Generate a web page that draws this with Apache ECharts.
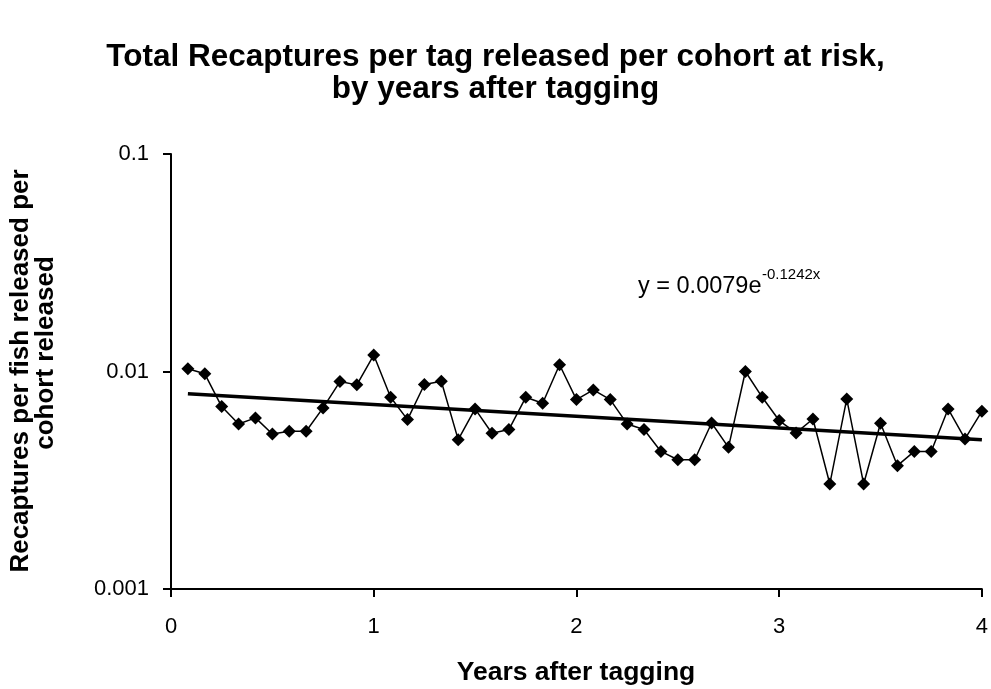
<!DOCTYPE html>
<html>
<head>
<meta charset="utf-8">
<script src="https://cdn.jsdelivr.net/npm/echarts@6/dist/echarts.min.js"></script>
<style>
html,body{margin:0;padding:0;background:#fff;}
#chart{width:991px;height:689px;}
</style>
</head>
<body>
<div id="chart"></div>
<script>
// Data
var months = [1,2,3,4,5,6,7,8,9,10,11,12,13,14,15,16,17,18,19,20,21,22,23,24,
              25,26,27,28,29,30,31,32,33,34,35,36,37,38,39,40,41,42,43,44,45,46,47,48];
var recaptures = [0.0103, 0.00976, 0.0069, 0.00574, 0.00612, 0.00516, 0.00531, 0.00531,
                  0.0068, 0.00899, 0.00868, 0.0119, 0.00761, 0.00601, 0.00871, 0.00902,
                  0.00486, 0.00673, 0.0052, 0.00541, 0.00761, 0.00714, 0.01074, 0.00743,
                  0.00823, 0.00743, 0.00574, 0.00541, 0.00429, 0.00393, 0.00393, 0.0058,
                  0.00448, 0.0100, 0.00761, 0.00595, 0.00522, 0.00605, 0.00304, 0.00748,
                  0.00304, 0.00578, 0.00369, 0.00429, 0.00429, 0.00673, 0.0049, 0.00656];
var trendX = [0.0833, 4];
var trendY = [0.0079, 0.00485];
var xTicks = [0, 1, 2, 3, 4];
var yTicks = [0.001, 0.01, 0.1];
var titleText = 'Total Recaptures per tag released per cohort at risk,\nby years after tagging';
var xName = 'Years after tagging';
var yNameLine1 = 'Recaptures per fish released per';
var yNameLine2 = 'cohort released';
var eqMain = 'y = 0.0079e';
var eqSup = '-0.1242x';

var FONT = '"Liberation Sans", Arial, Helvetica, sans-serif';
var pts = months.map(function (m, i) { return [m / 12, recaptures[i]]; });
var trend = trendX.map(function (x, i) { return [x, trendY[i]]; });

var chart = echarts.init(document.getElementById('chart'), null, {renderer: 'canvas'});
chart.setOption({
  animation: false,
  backgroundColor: '#fff',
  title: {
    text: titleText,
    left: 'center',
    top: 36,
    textStyle: {fontFamily: FONT, fontSize: 31.5, fontWeight: 'bold', color: '#000', lineHeight: 32}
  },
  grid: {left: 171, top: 154, width: 811, height: 435, containLabel: false},
  xAxis: {
    type: 'value', min: xTicks[0], max: xTicks[xTicks.length - 1], interval: 1,
    axisLine: {onZero: false, lineStyle: {color: '#000', width: 2}},
    axisTick: {length: 8, lineStyle: {color: '#000', width: 2}},
    splitLine: {show: false},
    axisLabel: {fontFamily: FONT, fontSize: 22, color: '#000', margin: 27}
  },
  yAxis: {
    type: 'log', logBase: 10, min: yTicks[0], max: yTicks[yTicks.length - 1],
    axisLine: {show: true, lineStyle: {color: '#000', width: 2}},
    axisTick: {show: true, length: 8, lineStyle: {color: '#000', width: 2}},
    splitLine: {show: false},
    minorTick: {show: false},
    axisLabel: {fontFamily: FONT, fontSize: 22, color: '#000', margin: 22,
      formatter: function (v) { return String(Number(v.toPrecision(1))); }}
  },
  graphic: [
    {type: 'text', x: 576, y: 673, style: {text: xName, fontFamily: FONT, fontSize: 26.5, fontWeight: 'bold',
      fill: '#000', textAlign: 'center', textVerticalAlign: 'middle'}},
    {type: 'text', x: 21, y: 371, rotation: Math.PI / 2, style: {text: yNameLine1, fontFamily: FONT, fontSize: 26,
      fontWeight: 'bold', fill: '#000', textAlign: 'center', textVerticalAlign: 'middle'}},
    {type: 'text', x: 46, y: 353, rotation: Math.PI / 2, style: {text: yNameLine2, fontFamily: FONT, fontSize: 26,
      fontWeight: 'bold', fill: '#000', textAlign: 'center', textVerticalAlign: 'middle'}},
    {type: 'text', x: 638, y: 287, style: {text: eqMain, fontFamily: FONT, fontSize: 23.5, fill: '#000',
      textAlign: 'left', textVerticalAlign: 'middle'}},
    {type: 'text', x: 762, y: 275, style: {text: eqSup, fontFamily: FONT, fontSize: 15, fill: '#000',
      textAlign: 'left', textVerticalAlign: 'middle'}}
  ],
  series: [
    {
      type: 'line', data: trend, symbol: 'none', z: 2,
      lineStyle: {color: '#000', width: 3.5}
    },
    {
      type: 'line', data: pts, symbol: 'diamond', symbolSize: 13, z: 3,
      itemStyle: {color: '#000'},
      lineStyle: {color: '#000', width: 1.5}
    }
  ]
});
</script>
</body>
</html>
